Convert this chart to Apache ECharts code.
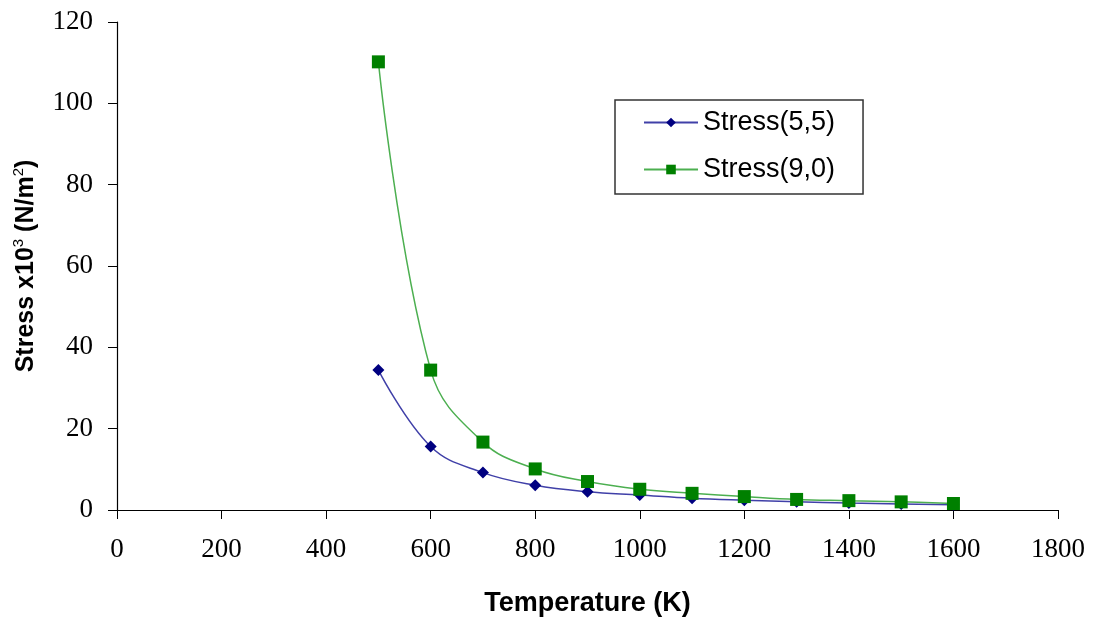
<!DOCTYPE html>
<html><head><meta charset="utf-8">
<script src="https://cdn.jsdelivr.net/npm/echarts@6/dist/echarts.min.js"></script>
<style>html,body{margin:0;padding:0;background:#fff}#c{width:1093px;height:619px}</style>
</head><body><div id="c"></div>
<script>
var temperatures = [500, 600, 700, 800, 900, 1000, 1100, 1200, 1300, 1400, 1500, 1600];
var stress55 = [34.4, 15.6, 9.2, 6.1, 4.5, 3.7, 2.9, 2.4, 2.0, 1.7, 1.5, 1.3];
var stress90 = [110.2, 34.4, 16.7, 10.1, 7.0, 5.1, 4.1, 3.3, 2.6, 2.3, 2.0, 1.6];
var xTicks = {min: 0, max: 1800, interval: 200};
var yTicks = {min: 0, max: 120, interval: 20};

function pairs(xs, ys){ return xs.map(function(x,i){ return [x, ys[i]]; }); }

var chart = echarts.init(document.getElementById('c'), null, {renderer:'canvas'});
chart.setOption({
  animation: false,
  backgroundColor: '#fff',
  grid: {left: 117, right: 35, top: 22, bottom: 109, containLabel: false, outerBoundsMode: 'none'},
  legend: {
    left: 615, top: 100,
    orient: 'vertical',
    borderColor: '#333', borderWidth: 1.5,
    padding: [9, 28, 11, 28],
    itemGap: 20,
    itemWidth: 54, itemHeight: 12,
    textStyle: {fontFamily: 'Liberation Sans, Arial', fontSize: 27, lineHeight: 27, color: '#000'},
    data: ['Stress(5,5)', 'Stress(9,0)']
  },
  xAxis: {
    type: 'value', min: xTicks.min, max: xTicks.max, interval: xTicks.interval,
    name: 'Temperature (K)', nameLocation: 'middle', nameGap: 80,
    nameTextStyle: {fontFamily: 'Liberation Sans, Arial', fontWeight: 'bold', fontSize: 27, color: '#000'},
    axisLine: {lineStyle: {color: '#000', width: 1.2}},
    axisTick: {lineStyle: {color: '#000'}, length: 9},
    axisLabel: {fontFamily: 'Liberation Serif, Times New Roman', fontSize: 27, color: '#000', margin: 26,
      formatter: function(v){ return String(v); }},
    splitLine: {show: false}
  },
  yAxis: {
    type: 'value', min: yTicks.min, max: yTicks.max, interval: yTicks.interval,
    name: 'Stress x10{sup|3} (N/m{sup|2})', nameLocation: 'middle', nameGap: 76,
    nameTextStyle: {fontFamily: 'Liberation Sans, Arial', fontWeight: 'bold', fontSize: 25, color: '#000',
      rich: {sup: {fontFamily: 'Liberation Sans, Arial', fontSize: 15, fontWeight: 'normal', color: '#000', verticalAlign: 'top', lineHeight: 30}}},
    axisLine: {show: true, lineStyle: {color: '#000', width: 1.2}},
    axisTick: {show: true, lineStyle: {color: '#000'}, length: 9},
    axisLabel: {fontFamily: 'Liberation Serif, Times New Roman', fontSize: 27, color: '#000', margin: 24},
    splitLine: {show: false}
  },
  series: [
    {
      name: 'Stress(5,5)', type: 'line', smooth: 0.4,
      data: pairs(temperatures, stress55),
      symbol: 'diamond', symbolSize: 12,
      itemStyle: {color: '#000080'},
      lineStyle: {color: '#4040a8', width: 1.5}
    },
    {
      name: 'Stress(9,0)', type: 'line', smooth: 0.4,
      data: pairs(temperatures, stress90),
      symbol: 'rect', symbolSize: 13,
      itemStyle: {color: '#008000'},
      lineStyle: {color: '#4caf50', width: 1.5}
    }
  ]
});
</script></body></html>
